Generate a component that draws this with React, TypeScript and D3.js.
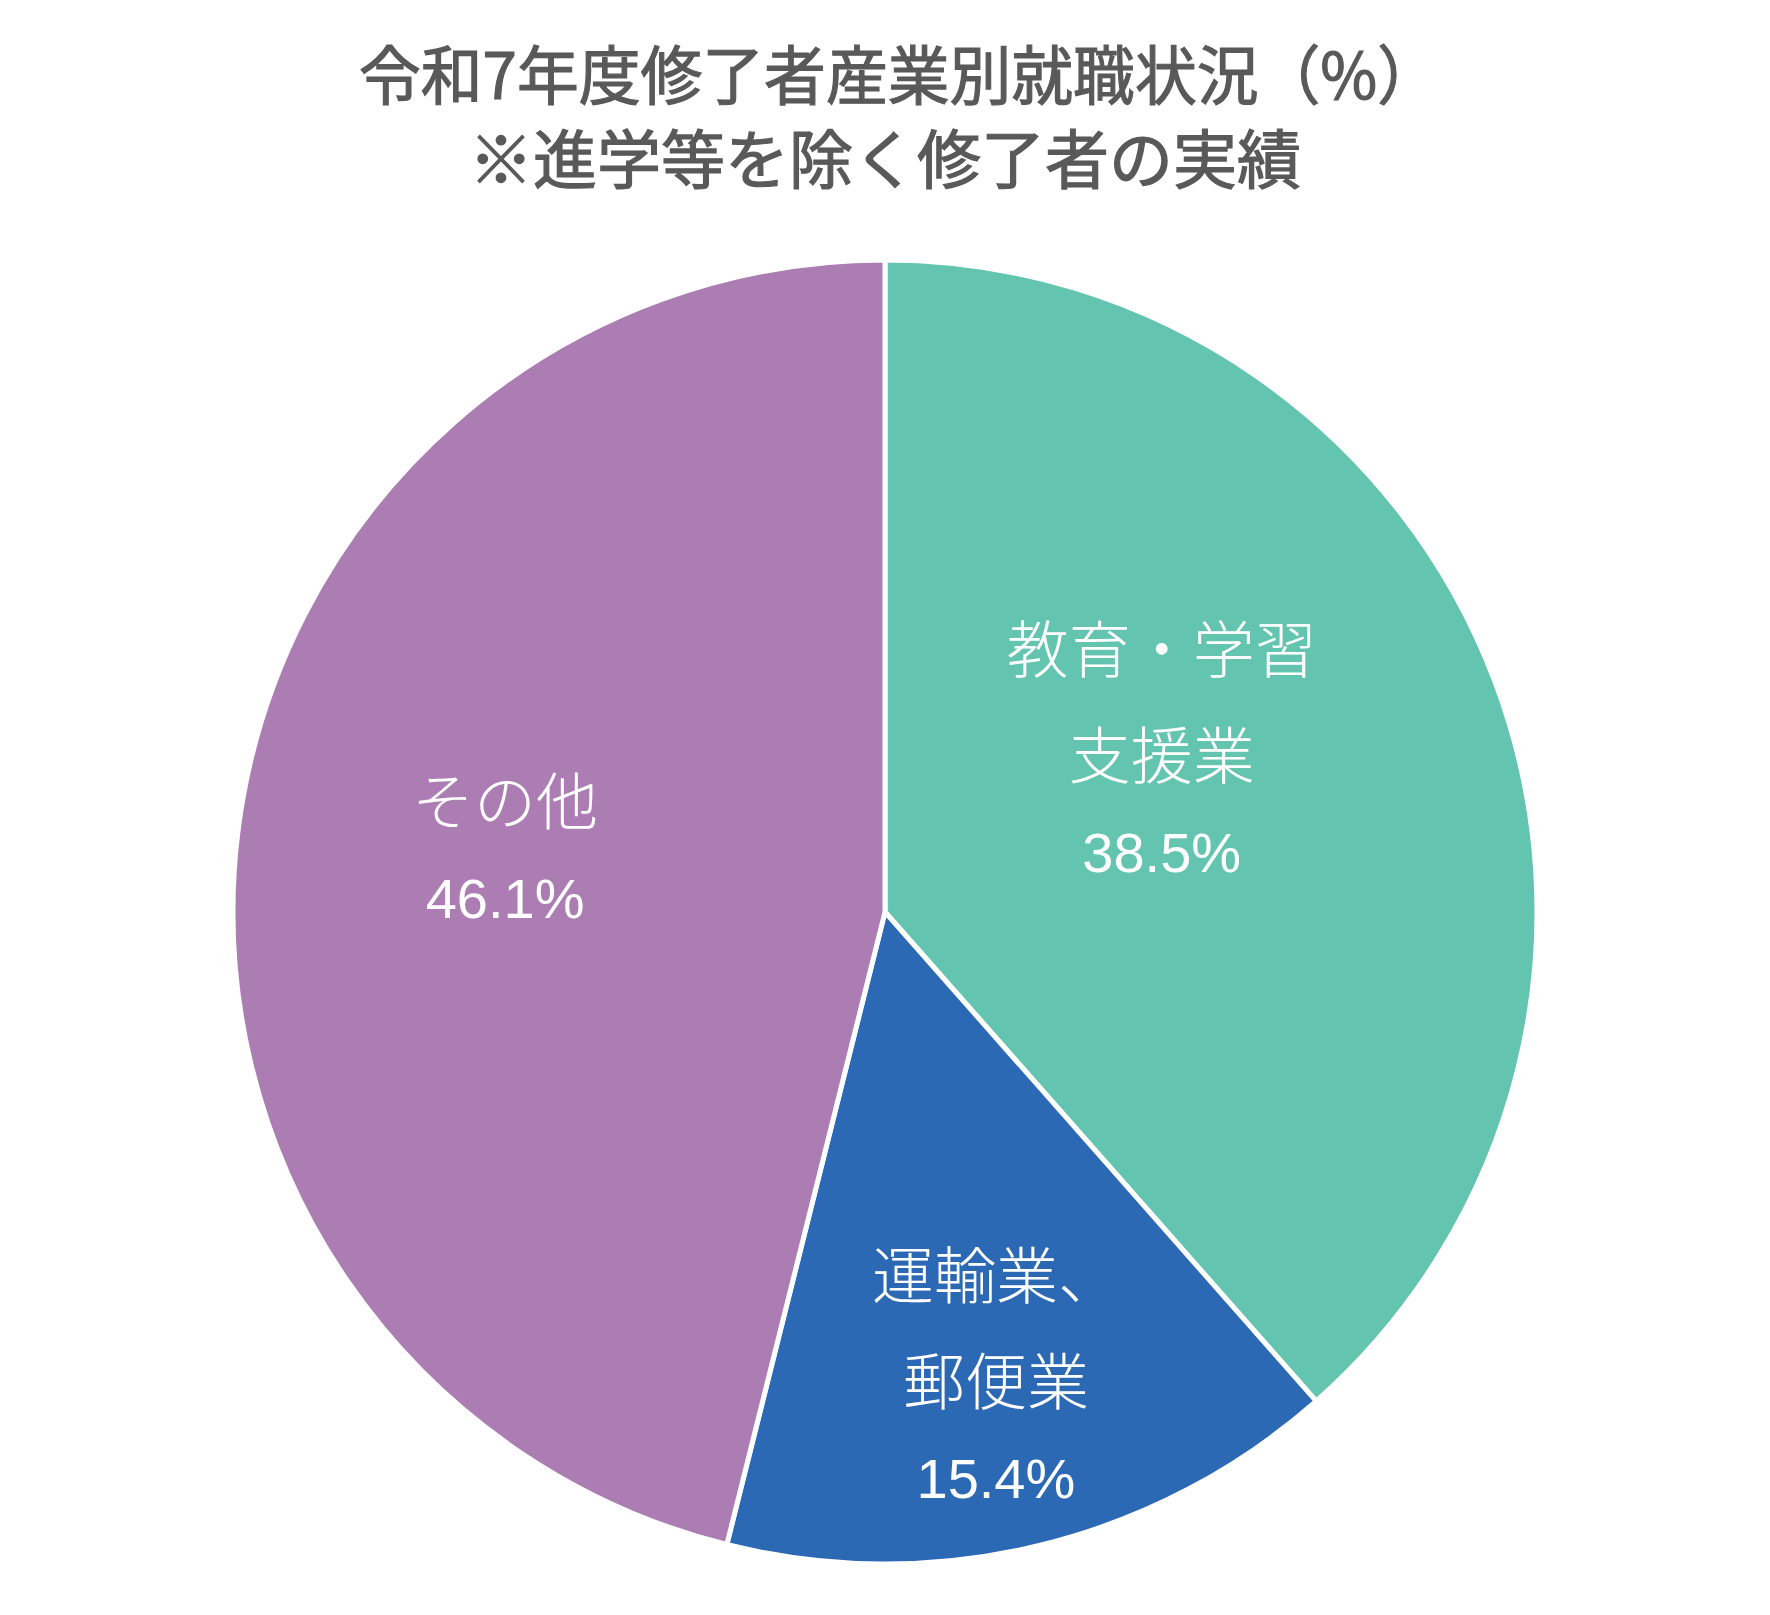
import React from "react";
import * as d3 from "d3";

const categories = ["教育・学習支援業", "運輸業、郵便業", "その他"];
const labelLines = [["教育・学習", "支援業"], ["運輸業、", "郵便業"], ["その他"]];
const values = [38.5, 15.4, 46.1];
const colors = ["#63C4AF", "#2C69B4", "#AB7DB2"];
const titleLines = ["令和7年度修了者産業別就職状況（%）", "※進学等を除く修了者の実績"];

// layout (not data)
const W = 1770, H = 1615;
const CX = 885, CY = 912, R = 652;
const labelRadiusFrac = [0.49, 0.735, 0.59];
const labelAngleShift = [-9.3, 0.3, 2.0]; // degrees

export default function App() {
  const pie = d3.pie<number>().sort(null).value((d) => d);
  const arcs = pie(values);
  const arcGen = d3.arc<d3.PieArcDatum<number>>().innerRadius(0).outerRadius(R);

  return (
    <div>
      <style>{`body{margin:0;background:#fff}`}</style>
      <svg width={W} height={H} style={{ display: "block" }}>
        <rect width={W} height={H} fill="#fff" />
        <g fontFamily='"Noto Sans CJK JP", sans-serif' fill="#595959" stroke="#595959" strokeWidth={1.2} fontWeight={400} textAnchor="middle">
          <text x={CX + 14} y={99} fontSize={64} textLength={1080} lengthAdjust="spacingAndGlyphs">{titleLines[0]}</text>
          <text x={CX} y={183} fontSize={64}>{titleLines[1]}</text>
        </g>
        <g transform={`translate(${CX},${CY})`}>
          {arcs.map((a, i) => (
            <path key={categories[i]} d={arcGen(a) || ""} fill={colors[i]} stroke="#fff" strokeWidth={5} strokeLinejoin="miter" />
          ))}
          {arcs.map((a, i) => {
            const mid = (a.startAngle + a.endAngle) / 2 + (labelAngleShift[i] * Math.PI) / 180;
            const lr = R * labelRadiusFrac[i];
            const c = d3.arc<any>().innerRadius(0).outerRadius(lr * 2).centroid({
              startAngle: mid,
              endAngle: mid,
            } as any);
            const lines = labelLines[i];
            const gapCJK = 106, gapNum = 93;
            const total = (lines.length - 1) * gapCJK + gapNum;
            const first = -total / 2 + 20;
            return (
              <g key={"l" + i} transform={`translate(${c[0]},${c[1]})`} fill="#fff" textAnchor="middle">
                {lines.map((ln, j) => (
                  <text key={j} x={0} y={first + j * gapCJK} fontFamily='"Noto Sans CJK JP", sans-serif' fontSize={62} fontWeight={300}>
                    {ln}
                  </text>
                ))}
                <text x={0} y={first + (lines.length - 1) * gapCJK + gapNum} fontFamily='"Liberation Sans", Arial, sans-serif' fontSize={56}>
                  {d3.format(".1f")(values[i]) + "%"}
                </text>
              </g>
            );
          })}
        </g>
      </svg>
    </div>
  );
}
